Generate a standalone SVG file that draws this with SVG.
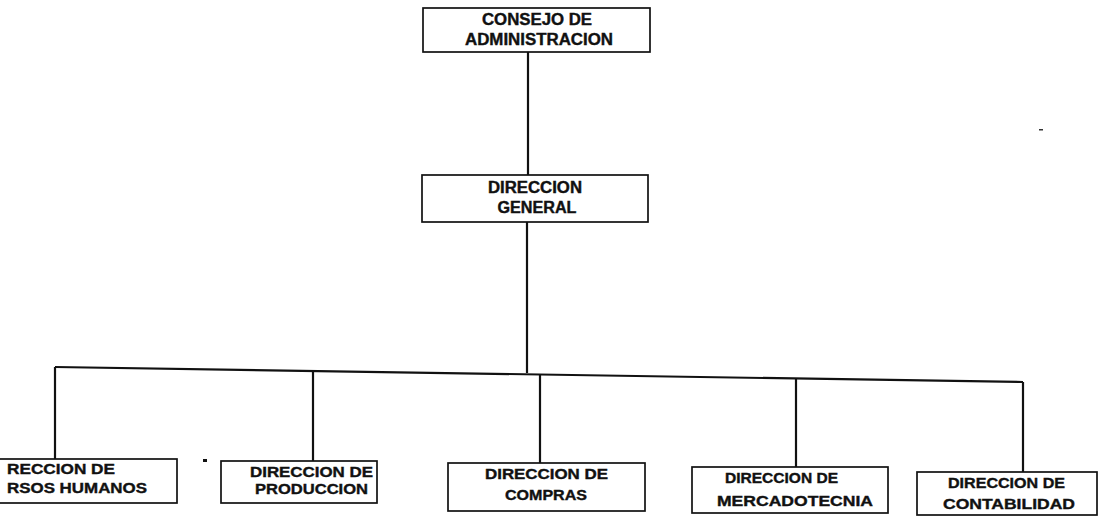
<svg xmlns="http://www.w3.org/2000/svg" width="1102" height="518" viewBox="0 0 1102 518">
<style>
.box{fill:#fff;stroke:#111;stroke-width:1.7}
.ln{stroke:#111;stroke-width:2.2;fill:none}
.t{font-family:"Liberation Sans",Arial,sans-serif;font-weight:bold;fill:#111;stroke:#111;stroke-width:0.4;text-anchor:middle}
.s{font-size:16px}
.m{font-size:15.5px}
</style>
<rect width="1102" height="518" fill="#fff"/>
<g id="connectors">
<line class="ln" x1="528" y1="52" x2="528" y2="175"/>
<line class="ln" x1="527" y1="222" x2="527" y2="373"/>
<line class="ln" x1="55" y1="367" x2="1023" y2="382"/>
<line class="ln" x1="55" y1="367" x2="55" y2="459"/>
<line class="ln" x1="313" y1="371" x2="313" y2="461"/>
<line class="ln" x1="540" y1="374.5" x2="540" y2="463"/>
<line class="ln" x1="796" y1="378.5" x2="796" y2="467"/>
<line class="ln" x1="1023" y1="382" x2="1023" y2="472"/>
</g>
<g id="consejo">
<rect class="box" x="423" y="8" width="227" height="44"/>
<text class="t s" x="537" y="25" textLength="110" lengthAdjust="spacingAndGlyphs">CONSEJO DE</text>
<text class="t s" x="539" y="45" textLength="148" lengthAdjust="spacingAndGlyphs">ADMINISTRACION</text>
</g>
<g id="direccion-general">
<rect class="box" x="422" y="175" width="226" height="47"/>
<text class="t s" x="535" y="193" textLength="94" lengthAdjust="spacingAndGlyphs">DIRECCION</text>
<text class="t s" x="537" y="213" textLength="79" lengthAdjust="spacingAndGlyphs">GENERAL</text>
</g>
<g id="recursos-humanos">
<rect class="box" x="-71" y="459" width="248" height="44"/>
<text class="t m" x="7" y="474" textLength="108" lengthAdjust="spacingAndGlyphs" style="text-anchor:start">RECCION DE</text>
<text class="t m" x="7" y="493" textLength="140" lengthAdjust="spacingAndGlyphs" style="text-anchor:start">RSOS HUMANOS</text>
</g>
<g id="produccion">
<rect class="box" x="221" y="461" width="156" height="42"/>
<text class="t m" x="311.5" y="477" textLength="123" lengthAdjust="spacingAndGlyphs">DIRECCION DE</text>
<text class="t m" x="311.5" y="494" textLength="113" lengthAdjust="spacingAndGlyphs">PRODUCCION</text>
</g>
<g id="compras">
<rect class="box" x="448" y="463" width="197" height="48"/>
<text class="t m" x="546.5" y="479" textLength="123" lengthAdjust="spacingAndGlyphs">DIRECCION DE</text>
<text class="t m" x="546" y="500" textLength="82" lengthAdjust="spacingAndGlyphs">COMPRAS</text>
</g>
<g id="mercadotecnia">
<rect class="box" x="692" y="467" width="196" height="46"/>
<text class="t m" x="781.5" y="483" textLength="113" lengthAdjust="spacingAndGlyphs">DIRECCION DE</text>
<text class="t m" x="795" y="506" textLength="156" lengthAdjust="spacingAndGlyphs">MERCADOTECNIA</text>
</g>
<g id="contabilidad">
<rect class="box" x="917" y="472" width="180" height="43"/>
<text class="t m" x="1006.5" y="488" textLength="117" lengthAdjust="spacingAndGlyphs">DIRECCION DE</text>
<text class="t m" x="1009" y="509" textLength="132" lengthAdjust="spacingAndGlyphs">CONTABILIDAD</text>
</g>
<rect x="203" y="459" width="4" height="3" fill="#111"/>
<rect x="1039" y="129" width="4" height="1.5" fill="#333"/>
</svg>
